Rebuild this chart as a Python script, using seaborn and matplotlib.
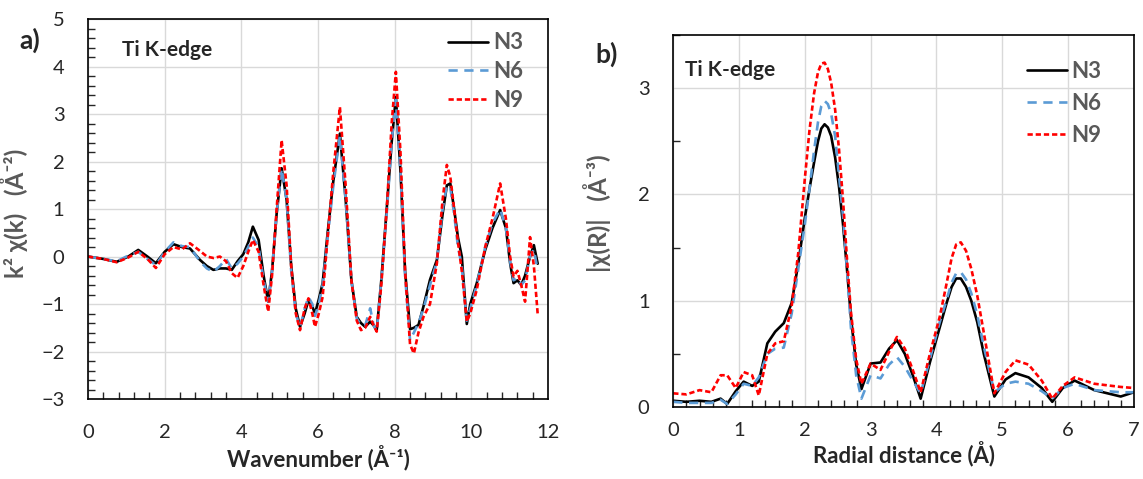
import numpy as np
import pandas as pd
import matplotlib
matplotlib.use("Agg")
import matplotlib.pyplot as plt
from matplotlib.ticker import MultipleLocator
import seaborn as sns

# ---------------- data: panel a (k-space) ----------------
k_vals = [0, 0.4, 0.75, 1.05, 1.31, 1.55, 1.77, 2.0, 2.23, 2.45, 2.66, 2.92, 3.1, 3.27, 3.44,
          3.6, 3.75, 3.9, 4.05, 4.18, 4.3, 4.45, 4.58, 4.70, 4.80, 4.92, 5.05, 5.18, 5.3, 5.42,
          5.53, 5.65, 5.75, 5.85, 5.92, 6.02, 6.12, 6.25, 6.4, 6.57, 6.72, 6.87, 7.01, 7.12,
          7.23, 7.36, 7.45, 7.53, 7.65, 7.8, 7.92, 8.03, 8.15, 8.27, 8.4, 8.5, 8.62, 8.75,
          8.92, 9.1, 9.25, 9.36, 9.45, 9.55, 9.65, 9.75, 9.88, 9.97, 10.14, 10.36, 10.55,
          10.75, 10.9, 11.01, 11.1, 11.2, 11.3, 11.4, 11.53, 11.63, 11.73]

chi_k_N3 = [0, -0.05, -0.11, 0.0, 0.14, 0.0, -0.14, 0.1, 0.26, 0.2, 0.17, -0.07, -0.2, -0.28, -0.25,
            -0.25, -0.28, -0.1, 0.05, 0.3, 0.63, 0.35, -0.4, -0.95, -0.3, 0.9, 1.86, 1.2, -0.2, -1.1,
            -1.48, -1.2, -0.92, -1.05, -1.2, -0.9, -0.56, 0.5, 1.6, 2.59, 1.2, -0.5, -1.27, -1.4,
            -1.48, -1.37, -1.45, -1.55, -0.5, 1.1, 2.4, 3.36, 1.8, -0.3, -1.53, -1.5, -1.44, -1.05,
            -0.49, -0.07, 0.9, 1.5, 1.54, 1.0, 0.4, 0.0, -1.42, -1.0, -0.56, 0.14, 0.6,
            0.98, 0.6, -0.14, -0.56, -0.5, -0.6, -0.4, 0.0, 0.24, -0.15]

chi_k_N6 = [0, -0.05, -0.1, 0.02, 0.1, -0.05, -0.18, 0.1, 0.3, 0.22, 0.2, -0.1, -0.25, -0.32, -0.2,
            -0.05, -0.25, -0.15, 0.0, 0.2, 0.4, 0.2, -0.5, -0.95, -0.3, 0.9, 1.85, 1.2, -0.3, -1.2,
            -1.5, -1.1, -0.85, -1.0, -1.25, -1.0, -0.6, 0.4, 1.5, 2.55, 1.2, -0.5, -1.3, -1.45,
            -1.45, -1.09, -1.45, -1.58, -0.5, 1.0, 2.4, 3.3, 1.8, -0.4, -1.76, -1.6, -1.4, -1.1,
            -0.6, -0.1, 1.0, 1.5, 1.45, 0.9, 0.2, -0.2, -1.35, -1.1, -0.6, 0.2, 0.7,
            1.0, 0.6, -0.1, -0.5, -0.45, -0.6, -0.5, 0.0, 0.15, -0.3]

chi_k_N9 = [0, -0.05, -0.12, -0.02, 0.1, -0.05, -0.24, 0.05, 0.2, 0.15, 0.28, 0.12, 0.0, -0.03, 0.0,
            -0.1, -0.35, -0.45, -0.2, 0.1, 0.35, 0.1, -0.6, -1.16, -0.4, 1.0, 2.45, 1.5, -0.2, -1.2,
            -1.55, -1.1, -0.88, -1.2, -1.48, -1.2, -0.85, 0.4, 1.8, 3.15, 1.5, -0.5, -1.35, -1.55,
            -1.5, -1.27, -1.45, -1.58, -0.6, 1.1, 2.8, 3.89, 2.2, -0.3, -1.85, -2.04, -1.6, -1.27,
            -1.0, -0.14, 1.2, 1.93, 1.68, 1.0, 0.3, -0.3, -1.37, -1.2, -0.7, 0.2, 0.8,
            1.54, 0.8, 0.0, -0.42, -0.3, -0.6, -0.95, 0.41, -0.2, -1.22]

# ---------------- data: panel b (R-space) ----------------
r_vals = [0, 0.2, 0.4, 0.58, 0.72, 0.82, 0.95, 1.07, 1.2, 1.3, 1.43, 1.55, 1.68, 1.8, 1.9,
          2.0, 2.07, 2.14, 2.2, 2.25, 2.3, 2.35, 2.4, 2.46, 2.52, 2.58, 2.64, 2.7, 2.78, 2.86,
          3.0, 3.15, 3.28, 3.4, 3.52, 3.64, 3.76, 3.9, 4.05, 4.15, 4.23, 4.3, 4.37, 4.45, 4.53,
          4.62, 4.72, 4.88, 5.05, 5.2, 5.4, 5.6, 5.76, 5.92, 6.1, 6.4, 6.8, 7.0]

chi_r_N3 = [0.06, 0.05, 0.06, 0.05, 0.08, 0.03, 0.15, 0.24, 0.2, 0.24, 0.6, 0.71, 0.79, 0.98, 1.35,
            1.78, 2.05, 2.3, 2.5, 2.62, 2.66, 2.63, 2.55, 2.35, 2.07, 1.72, 1.3, 0.85, 0.4, 0.17,
            0.41, 0.42, 0.55, 0.63, 0.5, 0.3, 0.08, 0.42, 0.75, 0.97, 1.13, 1.21, 1.21, 1.13, 1.0,
            0.8, 0.5, 0.1, 0.26, 0.32, 0.28, 0.18, 0.05, 0.18, 0.25, 0.16, 0.1, 0.14]

chi_r_N6 = [0.05, 0.04, 0.04, 0.04, 0.07, 0.03, 0.12, 0.22, 0.2, 0.28, 0.5, 0.55, 0.56, 0.88, 1.3,
            1.72, 2.05, 2.41, 2.68, 2.83, 2.88, 2.85, 2.76, 2.55, 2.17, 1.8, 1.3, 0.75, 0.3, 0.08,
            0.3, 0.27, 0.4, 0.47, 0.38, 0.25, 0.13, 0.45, 0.8, 1.0, 1.17, 1.26, 1.27, 1.2, 1.07,
            0.87, 0.57, 0.14, 0.22, 0.24, 0.22, 0.15, 0.08, 0.18, 0.22, 0.16, 0.14, 0.14]

chi_r_N9 = [0.13, 0.12, 0.16, 0.14, 0.3, 0.3, 0.18, 0.33, 0.3, 0.11, 0.5, 0.6, 0.62, 0.95, 1.45,
            2.15, 2.6, 2.95, 3.15, 3.23, 3.24, 3.18, 3.05, 2.8, 2.42, 1.95, 1.4, 0.9, 0.45, 0.22,
            0.41, 0.35, 0.52, 0.66, 0.55, 0.35, 0.14, 0.5, 0.85, 1.15, 1.4, 1.53, 1.55, 1.47, 1.3,
            1.05, 0.7, 0.13, 0.33, 0.44, 0.4, 0.25, 0.08, 0.2, 0.28, 0.22, 0.19, 0.18]

series_names = ["N3", "N6", "N9"]

# ---------------- styling ----------------
sns.set_style("white")
FONT = ["Lato", "DejaVu Sans"]
plt.rcParams["font.family"] = FONT
GRAY = "#595959"
styles = {
    "N3": dict(color="black", lw=1.9, dashes=(None, None)),
    "N6": dict(color="#5B9BD5", lw=1.9, dashes=(3.5, 2.5)),
    "N9": dict(color="#FF0000", lw=1.9, dashes=(2.0, 1.1)),
}

fig = plt.figure(figsize=(11.43, 4.79), dpi=100)
ax1 = fig.add_axes([0.077, 0.167, 0.4025, 0.793])
ax2 = fig.add_axes([0.589, 0.150, 0.403, 0.777])


def draw(ax, x, ys):
    for name, y in zip(series_names, ys):
        df = pd.DataFrame({"x": x, "y": y})
        st = styles[name]
        sns.lineplot(data=df, x="x", y="y", ax=ax, errorbar=None, estimator=None,
                     sort=False, color=st["color"], linewidth=st["lw"], label=name)
        ln = ax.get_lines()[-1]
        if st["dashes"][0] is not None:
            ln.set_dashes(st["dashes"])


draw(ax1, k_vals, [chi_k_N3, chi_k_N6, chi_k_N9])
draw(ax2, r_vals, [chi_r_N3, chi_r_N6, chi_r_N9])

# axes a
ax1.set_xlim(0, 12)
ax1.set_ylim(-3, 5)
ax1.xaxis.set_major_locator(MultipleLocator(2))
ax1.xaxis.set_minor_locator(MultipleLocator(0.4))
ax1.yaxis.set_major_locator(MultipleLocator(1))
ax1.yaxis.set_minor_locator(MultipleLocator(0.2))
ax1.tick_params(axis="x", which="major", direction="in", length=8, width=1, pad=18, labelsize=14.5)
ax1.tick_params(axis="y", which="major", direction="in", length=8, width=1, pad=17, labelsize=14.5)
ax1.tick_params(which="minor", direction="in", length=5, width=1, bottom=True, left=True)

# axes b
ax2.set_xlim(0, 7)
ax2.set_ylim(0, 3.5)
ax2.xaxis.set_major_locator(MultipleLocator(1))
ax2.xaxis.set_minor_locator(MultipleLocator(0.2))
ax2.yaxis.set_major_locator(MultipleLocator(1))
ax2.yaxis.set_minor_locator(MultipleLocator(0.5))
ax2.tick_params(axis="x", which="major", direction="in", length=8, width=1, pad=11, labelsize=14.5)
ax2.tick_params(axis="y", which="major", direction="in", length=8, width=1, pad=17, labelsize=14.5)
ax2.tick_params(which="minor", direction="in", length=5, width=1, bottom=True, left=True)

for ax in (ax1, ax2):
    ax.grid(True, which="major", color="#D9D9D9", lw=1)
    ax.set_axisbelow(True)
    for s in ax.spines.values():
        s.set_color("black")
        s.set_linewidth(1.2)

ax1.legend(loc="upper right", bbox_to_anchor=(0.945, 0.965), frameon=False,
           prop=dict(family=FONT, weight="bold", size=16), labelcolor=GRAY,
           handlelength=1.8, handletextpad=0.2, labelspacing=0.35, borderpad=0, borderaxespad=0)
ax2.legend(loc="upper right", bbox_to_anchor=(0.93, 0.93), frameon=False,
           prop=dict(family=FONT, weight="bold", size=16), labelcolor=GRAY,
           handlelength=1.8, handletextpad=0.2, labelspacing=0.5, borderpad=0, borderaxespad=0)

ax1.set_xlabel("Wavenumber (Å\u207b\u00b9)", fontsize=16, fontweight="bold", labelpad=3)
ax1.set_ylabel("k\u00b2 \u03c7(k)   (Å\u207b\u00b2)", fontsize=17.5, fontweight="bold", color=GRAY,
               labelpad=5)
ax1.yaxis.set_label_coords(-0.13, 0.49)
ax2.set_xlabel("Radial distance (Å)", fontsize=16, fontweight="bold", labelpad=1)
ax2.set_ylabel("|\u03c7(R)|   (Å\u207b\u00b3)", fontsize=17.5, fontweight="bold", color=GRAY,
               labelpad=5)
ax2.yaxis.set_label_coords(-0.135, 0.52)

ax1.text(0.074, 0.918, "Ti K-edge", transform=ax1.transAxes, fontsize=15, fontweight="bold",
         va="center")
ax2.text(0.026, 0.906, "Ti K-edge", transform=ax2.transAxes, fontsize=15, fontweight="bold",
         va="center")
fig.text(0.017, 0.916, "a)", fontsize=19, fontweight="bold", va="center")
fig.text(0.521, 0.887, "b)", fontsize=19, fontweight="bold", va="center")

fig.savefig("out.png", dpi=100)
